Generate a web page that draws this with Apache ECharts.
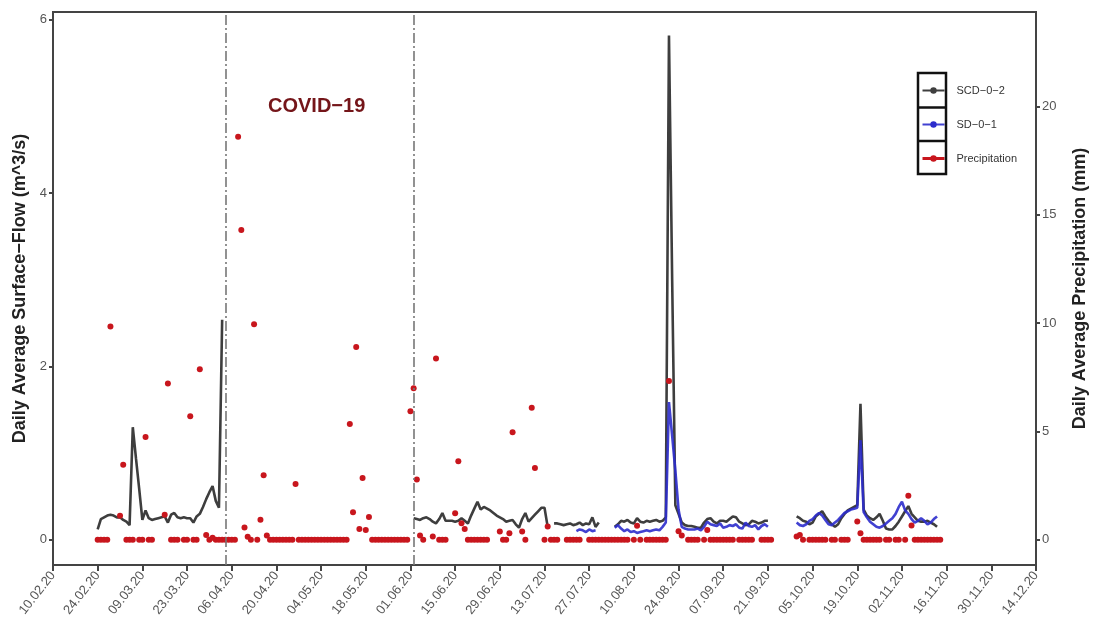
<!DOCTYPE html>
<html>
<head>
<meta charset="utf-8">
<title>Surface flow and precipitation</title>
<script src="https://cdn.jsdelivr.net/npm/echarts@6/dist/echarts.min.js"></script>
<style>
  html, body { margin: 0; padding: 0; background: #fff; }
  #chart { width: 1093px; height: 640px; }
</style>
</head>
<body>
<div id="chart"></div>
<script>
const _ = null; // no measurement that day

// x axis: days counted from axisStart, one tick every two weeks
const axisStart = "2020-02-10";
const axisEnd = "2020-12-14";
const tickStepDays = 14;
const covidStart = "2020-04-04";
const covidEnd = "2020-06-02";

const flowTicks = [0, 2, 4, 6];
const rainTicks = [0, 5, 10, 15, 20];

// daily values, one row per week, first row starts on firstDay
const firstDay = "2020-02-24";

// SCD-0-2 flow (m^3/s)
const scdFlow = [
  0.12, 0.24, 0.26, 0.28, 0.29, 0.28, 0.26, // 24.02
  0.26, 0.23, 0.21, 0.17, 1.30, 0.94, 0.59, // 02.03
  0.23, 0.34, 0.25, 0.23, 0.24, 0.25, 0.26, // 09.03
  0.27, 0.20, 0.29, 0.31, 0.26, 0.25, 0.26, // 16.03
  0.25, 0.25, 0.20, 0.27, 0.30, 0.38, 0.47, // 23.03
  0.55, 0.62, 0.45, 0.37, 2.54, _, _,       // 30.03
  _, _, _, _, _, _, _,                      // 06.04
  _, _, _, _, _, _, _,                      // 13.04
  _, _, _, _, _, _, _,                      // 20.04
  _, _, _, _, _, _, _,                      // 27.04
  _, _, _, _, _, _, _,                      // 04.05
  _, _, _, _, _, _, _,                      // 11.05
  _, _, _, _, _, _, _,                      // 18.05
  _, _, _, _, _, _, _,                      // 25.05
  _, 0.25, 0.24, 0.23, 0.25, 0.26, 0.24,    // 01.06
  0.21, 0.19, 0.24, 0.31, 0.22, 0.22, 0.22, // 08.06
  0.21, 0.22, 0.25, 0.22, 0.19, 0.28, 0.36, // 15.06
  0.44, 0.35, 0.38, 0.36, 0.34, 0.31, 0.28, // 22.06
  0.26, 0.24, 0.21, 0.22, 0.23, 0.18, 0.14, // 29.06
  0.24, 0.31, 0.21, 0.25, 0.29, 0.33, 0.37, // 06.07
  0.37, 0.15, _, 0.19, 0.19, 0.18, 0.17,    // 13.07
  0.18, 0.19, 0.17, 0.18, 0.20, 0.17, 0.19, // 20.07
  0.18, 0.26, 0.15, 0.20, _, _, _,          // 27.07
  _, 0.15, 0.18, 0.22, 0.21, 0.23, 0.20,    // 03.08
  0.19, 0.25, 0.21, 0.20, 0.22, 0.21, 0.22, // 10.08
  0.23, 0.21, 0.22, 0.26, 5.82, 3.00, 0.40, // 17.08
  0.30, 0.20, 0.17, 0.16, 0.16, 0.15, 0.14, // 24.08
  0.14, 0.20, 0.24, 0.25, 0.21, 0.19, 0.22, // 31.08
  0.22, 0.21, 0.24, 0.27, 0.26, 0.21, 0.19, // 07.09
  0.17, 0.18, 0.22, 0.21, 0.19, 0.20, 0.22, // 14.09
  0.22, _, _, _, _, _, _,                   // 21.09
  _, _, 0.27, 0.25, 0.22, 0.21, 0.18,       // 28.09
  0.20, 0.27, 0.30, 0.33, 0.27, 0.22, 0.18, // 05.10
  0.15, 0.18, 0.25, 0.30, 0.34, 0.36, 0.38, // 12.10
  0.40, 1.57, 0.35, 0.28, 0.25, 0.23, 0.26, // 19.10
  0.30, 0.22, 0.13, 0.12, 0.12, 0.16, 0.21, // 26.10
  0.27, 0.33, 0.39, 0.30, 0.26, 0.22, 0.21, // 02.11
  0.21, 0.22, 0.20, 0.18, 0.15, _           // 09.11
];

// SD-0-1 flow (m^3/s)
const sdFlow = [
  _, _, _, _, _, _, _,                      // 24.02
  _, _, _, _, _, _, _,                      // 02.03
  _, _, _, _, _, _, _,                      // 09.03
  _, _, _, _, _, _, _,                      // 16.03
  _, _, _, _, _, _, _,                      // 23.03
  _, _, _, _, _, _, _,                      // 30.03
  _, _, _, _, _, _, _,                      // 06.04
  _, _, _, _, _, _, _,                      // 13.04
  _, _, _, _, _, _, _,                      // 20.04
  _, _, _, _, _, _, _,                      // 27.04
  _, _, _, _, _, _, _,                      // 04.05
  _, _, _, _, _, _, _,                      // 11.05
  _, _, _, _, _, _, _,                      // 18.05
  _, _, _, _, _, _, _,                      // 25.05
  _, _, _, _, _, _, _,                      // 01.06
  _, _, _, _, _, _, _,                      // 08.06
  _, _, _, _, _, _, _,                      // 15.06
  _, _, _, _, _, _, _,                      // 22.06
  _, _, _, _, _, _, _,                      // 29.06
  _, _, _, _, _, _, _,                      // 06.07
  _, _, _, _, _, _, _,                      // 13.07
  _, _, _, 0.10, 0.12, 0.11, 0.09,          // 20.07
  0.12, 0.10, 0.11, _, _, _, _,             // 27.07
  _, 0.14, 0.17, 0.13, 0.10, 0.12, 0.09,    // 03.08
  0.10, 0.08, 0.09, 0.10, 0.11, 0.10, 0.11, // 10.08
  0.12, 0.11, 0.15, 0.20, 1.59, 1.20, 0.80, // 17.08
  0.35, 0.15, 0.13, 0.12, 0.12, 0.12, 0.13, // 24.08
  0.11, 0.15, 0.21, 0.18, 0.17, 0.16, 0.19, // 31.08
  0.14, 0.15, 0.17, 0.16, 0.18, 0.14, 0.13, // 07.09
  0.20, 0.16, 0.15, 0.17, 0.12, 0.16, 0.18, // 14.09
  0.15, _, _, _, _, _, _,                   // 21.09
  _, _, 0.20, 0.17, 0.16, 0.18, 0.22,       // 28.09
  0.24, 0.28, 0.31, 0.28, 0.23, 0.18, 0.17, // 05.10
  0.20, 0.23, 0.27, 0.31, 0.33, 0.35, 0.36, // 12.10
  0.37, 1.15, 0.32, 0.26, 0.21, 0.18, 0.15, // 19.10
  0.14, 0.16, 0.19, 0.22, 0.25, 0.30, 0.38, // 26.10
  0.44, 0.34, 0.30, 0.24, 0.20, 0.22, 0.25, // 02.11
  0.22, 0.18, 0.20, 0.24, 0.27, _           // 09.11
];

// daily precipitation (mm)
const precipitation = [
  0, 0, 0, 0, 9.85, _, _,                   // 24.02
  1.11, 3.47, 0, 0, 0, _, 0,                // 02.03
  0, 4.75, 0, 0, _, _, _,                   // 09.03
  1.16, 7.22, 0, 0, 0, _, 0,                // 16.03
  0, 5.71, 0, 0, 7.87, _, 0.23,             // 23.03
  0, 0.1, 0, 0, 0, 0, 0,                    // 30.03
  0, 0, 18.6, 14.3, 0.57, 0.14, 0,          // 06.04
  9.95, 0, 0.93, 2.98, 0.2, 0, 0,           // 13.04
  0, 0, 0, 0, 0, 0, 2.58,                   // 20.04
  0, 0, 0, 0, 0, 0, 0,                      // 27.04
  0, 0, 0, 0, 0, 0, 0,                      // 04.05
  0, 0, 5.35, 1.27, 8.9, 0.5, 2.85,         // 11.05
  0.46, 1.05, 0, 0, 0, 0, 0,                // 18.05
  0, 0, 0, 0, 0, 0, 0,                      // 25.05
  5.94, 7.0, 2.78, 0.2, 0, _, _,            // 01.06
  0.15, 8.37, 0, 0, 0, _, _,                // 08.06
  1.23, 3.63, 0.77, 0.5, 0, 0, 0,           // 15.06
  0, 0, 0, 0, _, _, _,                      // 22.06
  0.39, 0, 0, 0.3, 4.97, _, _,              // 29.06
  0.39, 0, _, 6.1, 3.32, _, _,              // 06.07
  0, 0.62, 0, 0, 0, _, _,                   // 13.07
  0, 0, 0, 0, 0, _, _,                      // 20.07
  0, 0, 0, 0, 0, 0, 0,                      // 27.07
  0, 0, 0, 0, 0, 0, _,                      // 03.08
  0, 0.65, 0, _, 0, 0, 0,                   // 10.08
  0, 0, 0, 0, 7.33, _, _,                   // 17.08
  0.4, 0.2, _, 0, 0, 0, 0,                  // 24.08
  _, 0, 0.45, 0, 0, 0, 0,                   // 31.08
  0, 0, 0, 0, _, 0, 0,                      // 07.09
  0, 0, 0, _, _, 0, 0,                      // 14.09
  0, 0, _, _, _, _, _,                      // 21.09
  _, _, 0.15, 0.23, 0, _, 0,                // 28.09
  0, 0, 0, 0, 0, _, 0,                      // 05.10
  0, _, 0, 0, 0, _, _,                      // 12.10
  0.85, 0.3, 0, 0, 0, 0, 0,                 // 19.10
  0, _, 0, 0, _, 0, 0,                      // 26.10
  _, 0, 2.04, 0.66, 0, 0, 0,                // 02.11
  0, 0, 0, 0, 0, 0                          // 09.11
];

const DAY = 86400000;
const dayOffset = (d) => (Date.parse(d) - Date.parse(axisStart)) / DAY;
const pad = (n) => String(n).padStart(2, "0");
const dateLabel = (v) => {
  const t = new Date(Date.parse(axisStart) + v * DAY);
  return pad(t.getUTCDate()) + "." + pad(t.getUTCMonth() + 1) + "." + String(t.getUTCFullYear()).slice(2);
};

const first = dayOffset(firstDay);
const linePoints = (arr) => arr.map((v, i) => [first + i, v === null ? "-" : v]);
const dotPoints = (arr) => arr.map((v, i) => [first + i, v]).filter((p) => p[1] !== null);

const font = "'Liberation Sans', Arial, sans-serif";
const axisColor = "#444";
const labelColor = "#555";

const chart = echarts.init(document.getElementById("chart"));
chart.setOption({
  animation: false,
  backgroundColor: "#fff",
  textStyle: { fontFamily: font },
  grid: {
    left: 53, right: 57, top: 12, bottom: 75,
    outerBoundsMode: "none",
    show: true, borderColor: axisColor, borderWidth: 2
  },
  legend: {
    orient: "vertical",
    left: 916, top: 80,
    itemWidth: 22, itemHeight: 8, itemGap: 23,
    textStyle: { fontSize: 11, color: "#333", padding: [0, 0, 0, 7] },
    data: [
      { name: "SCD−0−2" },
      { name: "SD−0−1" },
      { name: "Precipitation", lineStyle: { width: 3, opacity: 1, color: "#c8161d" } }
    ]
  },
  xAxis: {
    type: "value",
    min: 0,
    max: dayOffset(axisEnd),
    interval: tickStepDays,
    splitLine: { show: false },
    axisLine: { onZero: false, lineStyle: { color: axisColor, width: 2 } },
    axisTick: { length: 6, lineStyle: { color: axisColor, width: 2 } },
    axisLabel: {
      rotate: 52, margin: 8, fontSize: 13, color: labelColor,
      formatter: dateLabel
    }
  },
  yAxis: [
    {
      type: "value",
      position: "left",
      min: -0.29, max: 6.09,
      splitLine: { show: false },
      axisLine: { show: true, onZero: false, lineStyle: { color: axisColor, width: 2 } },
      axisTick: { show: true, length: 4, customValues: flowTicks, lineStyle: { color: axisColor, width: 2 } },
      axisLabel: { customValues: flowTicks, fontSize: 13, color: labelColor, margin: 6 },
      name: "Daily Average Surface−Flow (m^3/s)",
      nameLocation: "middle",
      nameRotate: 90,
      nameGap: 24,
      nameTextStyle: { fontSize: 18, fontWeight: "bold", color: "#222" }
    },
    {
      type: "value",
      position: "right",
      min: -1.16, max: 24.36,
      splitLine: { show: false },
      axisLine: { show: true, onZero: false, lineStyle: { color: axisColor, width: 2 } },
      axisTick: { show: true, length: 4, customValues: rainTicks, lineStyle: { color: axisColor, width: 2 } },
      axisLabel: { customValues: rainTicks, fontSize: 13, color: labelColor, margin: 6 },
      name: "Daily Average Precipitation (mm)",
      nameLocation: "middle",
      nameRotate: 90,
      nameGap: 35,
      nameTextStyle: { fontSize: 18, fontWeight: "bold", color: "#222" }
    }
  ],
  series: [
    {
      name: "SCD−0−2",
      type: "line",
      yAxisIndex: 0,
      data: linePoints(scdFlow),
      showSymbol: false,
      symbol: "circle",
      symbolSize: 5,
      itemStyle: { color: "#3e3e3e" },
      lineStyle: { color: "#3e3e3e", width: 2.6 },
      z: 2,
      markLine: {
        silent: true,
        symbol: "none",
        label: { show: false },
        lineStyle: { color: "#777", width: 1.6, type: [10, 3, 2, 3] },
        data: [{ xAxis: dayOffset(covidStart) }, { xAxis: dayOffset(covidEnd) }]
      }
    },
    {
      name: "SD−0−1",
      type: "line",
      yAxisIndex: 0,
      data: linePoints(sdFlow),
      showSymbol: false,
      symbol: "circle",
      symbolSize: 5,
      itemStyle: { color: "#2c2ccc" },
      lineStyle: { color: "#2c2ccc", width: 2.6, opacity: 0.9 },
      z: 3
    },
    {
      name: "Precipitation",
      type: "line",
      yAxisIndex: 1,
      data: dotPoints(precipitation),
      showSymbol: true,
      showAllSymbol: true,
      symbol: "circle",
      symbolSize: 6,
      itemStyle: { color: "#c8161d" },
      lineStyle: { width: 0, opacity: 0 },
      z: 4
    }
  ],
  graphic: [
    {
      type: "text",
      left: 268, top: 96,
      style: { text: "COVID−19", fill: "#741519", font: "bold 20px " + font }
    },
    {
      type: "rect",
      shape: { x: 918, y: 73, width: 28, height: 101 },
      style: { fill: "none", stroke: "#111", lineWidth: 2.5 },
      z: 10
    },
    {
      type: "line",
      shape: { x1: 918, y1: 107.5, x2: 946, y2: 107.5 },
      style: { stroke: "#111", lineWidth: 2.5 },
      z: 10
    },
    {
      type: "line",
      shape: { x1: 918, y1: 141, x2: 946, y2: 141 },
      style: { stroke: "#111", lineWidth: 2.5 },
      z: 10
    }
  ]
});
</script>
</body>
</html>
